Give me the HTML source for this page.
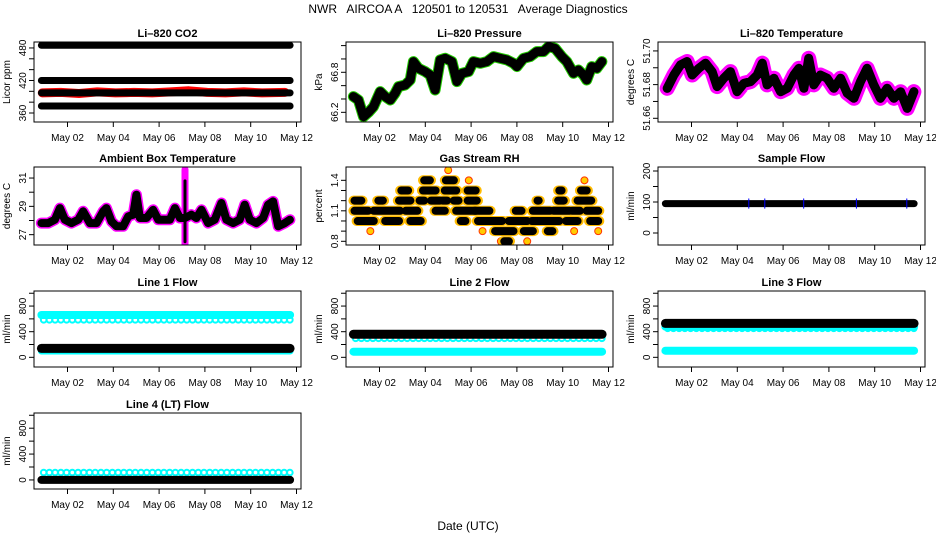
<!DOCTYPE html>
<html><head><meta charset="utf-8">
<style>
html,body{margin:0;padding:0;background:#fff;}
svg{display:block;font-family:"Liberation Sans",Arial,sans-serif;}
text{white-space:pre;}
</style></head>
<body>
<svg id="chart" width="936" height="540" viewBox="0 0 936 540" xmlns="http://www.w3.org/2000/svg">
<text x="468" y="13" text-anchor="middle" font-size="12" xml:space="preserve">NWR   AIRCOA A   120501 to 120531   Average Diagnostics</text>
<text x="468" y="530" text-anchor="middle" font-size="12">Date (UTC)</text>
</svg>
<script>
// ---- data ----
const dayTicks = [2,4,6,8,10,12];
const dayLabels = ["May 02","May 04","May 06","May 08","May 10","May 12"];
const flowTicks = [0,200,400,600,800,1000];
const flowLabels = ["0","400","800"];

const co2Levels = [485,420,397,373];
const co2Red = [397,398,396,399,397,398,397,399,401,398,397,399,397,398];
const co2RedTimes = [0.9,1.7,2.5,3.3,4.1,4.9,5.7,6.5,7.3,8.1,8.9,9.7,10.5,11.5];

const presTimes = [0.86,1.08,1.30,1.52,1.74,2.03,2.25,2.47,2.68,2.83,3.12,3.34,3.48,3.70,3.99,4.21,4.43,4.65,4.87,5.16,5.38,5.60,5.89,6.10,6.40,6.69,6.98,7.27,7.56,7.85,8.0,8.29,8.58,8.87,9.16,9.38,9.67,9.96,10.18,10.47,10.69,10.91,11.05,11.27,11.49,11.71];
const presVals = [66.435,66.385,66.135,66.2,66.285,66.51,66.435,66.385,66.485,66.585,66.61,66.685,66.96,66.86,66.81,66.76,66.535,66.985,67.01,66.96,66.66,66.785,66.81,66.96,66.935,66.96,67.035,67.01,66.985,66.935,66.885,67.01,67.035,67.11,67.11,67.185,67.16,67.035,66.96,66.785,66.835,66.76,66.685,66.885,66.86,66.96];

const tempTimes = [0.94,1.23,1.52,1.81,2.03,2.32,2.61,2.90,3.12,3.41,3.70,3.99,4.29,4.58,4.87,5.09,5.30,5.60,5.89,6.18,6.47,6.69,6.91,7.12,7.34,7.63,7.92,8.22,8.51,8.80,9.09,9.38,9.67,9.96,10.25,10.54,10.84,11.13,11.42,11.71];
const tempVals = [51.6778,51.6857,51.6917,51.6937,51.6857,51.6897,51.6927,51.6877,51.6788,51.6838,51.6877,51.6758,51.6808,51.6818,51.6857,51.6927,51.6798,51.6838,51.6758,51.6778,51.6857,51.6897,51.6778,51.6956,51.6798,51.6857,51.6838,51.6778,51.6838,51.6749,51.6719,51.6818,51.6897,51.6798,51.6719,51.6778,51.6719,51.6758,51.6659,51.6758];

const ambTimes = [0.86,1.16,1.45,1.67,1.88,2.17,2.47,2.68,2.98,3.27,3.56,3.70,3.92,4.14,4.43,4.65,4.87,5.01,5.16,5.45,5.74,5.96,6.25,6.47,6.69,6.91,7.13,7.41,7.63,7.85,8.14,8.43,8.72,8.94,9.23,9.52,9.74,9.96,10.25,10.54,10.76,10.98,11.20,11.49,11.71];
const ambVals = [27.82,27.82,28.06,28.88,28.06,27.82,28.06,28.65,27.82,27.82,28.65,28.88,27.94,27.59,27.59,28.29,28.41,29.82,28.18,28.18,28.76,28.06,28.06,28.06,28.88,28.18,28.18,28.41,28.18,28.76,27.82,28.06,29.24,28.06,27.82,28.06,29.12,28.06,27.82,28.18,29.12,29.35,27.59,27.82,28.06];
const ambSpikeDay = 7.13;
const ambSpikeRange = [26.2,31.6];

const rhStart = [0.86,0.86,1.0,1.9,1.7,2.2,2.8,2.9,3.1,3.3,3.7,3.85,3.9,4.2,4.4,4.7,4.8,4.85,5.2,5.3,5.5,5.8,5.8,6.1,6.25,7.0,7.4,7.6,7.9,8.25,8.6,8.65,8.85,9.3,9.55,9.75,9.8,10.1,10.35,10.6,10.75,11.0,11.15];
const rhEnd   = [1.26,1.55,1.8,2.2,2.95,2.9,3.4,3.3,3.7,3.85,4.0,4.5,4.25,4.7,4.9,5.0,5.4,5.3,5.5,6.25,5.8,6.3,6.25,6.85,7.4,7.9,7.7,8.5,8.25,8.75,9.9,9.5,9.0,9.6,10.35,10.1,10.0,10.7,10.8,11.3,11.1,11.6,11.6];
const rhLevel = [1.2,1.1,1.0,1.2,1.1,1.0,1.2,1.3,1.1,1.0,1.2,1.3,1.4,1.2,1.1,1.2,1.3,1.4,1.2,1.1,1.0,1.2,1.3,1.1,1.0,0.9,0.8,1.0,1.1,0.9,1.0,1.1,1.2,0.9,1.1,1.2,1.3,1.0,1.1,1.2,1.3,1.1,1.0];
const rhYellowDays = [1.6,7.3,8.45,6.5,10.5,11.55,5.9,10.95,5.0,4.1];
const rhYellowVals = [0.9,0.8,0.8,0.9,0.9,0.9,1.4,1.4,1.5,1.4];

const sampleLevel = 95;
const blueTickDays = [4.5,5.2,6.9,9.2,11.4];

const line1Bands = [660,140,98];
const line1Dip = 585;
const line2Bands = [360,88];
const line2Circ = 296;
const line3Bands = [530,478,103];
const line4Circ = 115;
const line4Band = 0;
const seriesStart = 0.86, seriesEnd = 11.72;

// ---- layout ----
const NS = "http://www.w3.org/2000/svg";
const svg = document.getElementById('chart');
const colLeft = [34,346,658];
const colW = 267;
const rowTop = [42,167,291,413];
const rowH = [80,78,76,76];

function mk(tag, attrs, parent){
  const e = document.createElementNS(NS, tag);
  for (const k in attrs) e.setAttribute(k, attrs[k]);
  (parent||svg).appendChild(e);
  return e;
}

function panel(name, col, row, title, ylab, ymin, ymax, ticks, labels){
  const L = colLeft[col], T = rowTop[row], W = colW, H = rowH[row];
  const g = mk('g', {});
  
  
  const sx = d => L + 33.5 + (d - 2) * 22.9;
  const sy = v => T + H - (v - ymin) / (ymax - ymin) * H;
  const t = mk('text', {x: L + W/2, y: T - 5, 'text-anchor':'middle', 'font-size':11, 'font-weight':'bold'}, g);
  t.textContent = title;
  
  
  const yl = mk('text', {x:0, y:0, transform:`translate(${L-24},${T+H/2}) rotate(-90)`, 'text-anchor':'middle', 'font-size':10}, g);
  yl.textContent = ylab;
  
  
  ticks.forEach(v => {
    const y = sy(v);
    mk('line', {x1:L-5, x2:L, y1:y, y2:y, stroke:'#000', 'stroke-width':1}, g);
  });
  mk('line', {x1:L, x2:L, y1:sy(ticks[0]), y2:sy(ticks[ticks.length-1]), stroke:'#000'}, g);
  labels.forEach(s => {
    const y = sy(parseFloat(s));
    const tx = mk('text', {x:0, y:0, transform:`translate(${L-8},${y}) rotate(-90)`, 'text-anchor':'middle', 'font-size':10}, g);
    tx.textContent = s;
    
    
  });
  dayTicks.forEach((d, i) => {
    const x = sx(d);
    mk('line', {x1:x, x2:x, y1:T+H, y2:T+H+5, stroke:'#000'}, g);
    const tx = mk('text', {x:x, y:T+H+19, 'text-anchor':'middle', 'font-size':10}, g);
    tx.textContent = dayLabels[i];
    
    
  });
  const plot = mk('g', {}, g);
  const clip = mk('clipPath', {id: 'clip-' + name}, g);
  mk('rect', {x:L, y:T, width:W, height:H}, clip);
  plot.setAttribute('clip-path', `url(#clip-${name})`);
  const box = mk('rect', {x:L, y:T, width:W, height:H, fill:'none', stroke:'#000', 'stroke-width':1}, g);
  
  
  return {sx, sy, g: plot};
}

function path(p, times, vals, color, w, name){
  let d = '';
  times.forEach((t, i) => { d += (i ? 'L' : 'M') + p.sx(t).toFixed(1) + ' ' + p.sy(vals[i]).toFixed(1); });
  const e = mk('path', {d, fill:'none', stroke:color, 'stroke-width':w, 'stroke-linejoin':'round', 'stroke-linecap':'round'}, p.g);
  
  
  return e;
}
function band(p, v, color, w, name){
  return path(p, [seriesStart, seriesEnd], [v, v], color, w, name);
}
function circles(p, v, color, name){
  for (let t = seriesStart + 0.1; t < seriesEnd; t += 0.25) {
    const c = mk('circle', {cx:p.sx(t), cy:p.sy(v), r:2.8, fill:'none', stroke:color, 'stroke-width':2}, p.g);
    
    
  }
}

// CO2
let p = panel('co2', 0, 0, 'Li\u2013820 CO2', 'Licor ppm', 343.4, 491, [360,380,400,420,440,460,480], ["360","420","480"]);
path(p, co2RedTimes, co2Red, '#ff0000', 9, 'co2-red-series');
co2Levels.forEach((v, i) => band(p, v, '#000', 7, 'co2-level-' + i));

// Pressure
p = panel('pressure', 1, 0, 'Li\u2013820 Pressure', 'kPa', 66.055, 67.254, [66.2,66.4,66.6,66.8,67.0,67.2], ["66.2","66.8"]);
path(p, presTimes, presVals, '#22cc00', 11, 'pressure-halo');
path(p, presTimes, presVals, '#000', 9, 'pressure-series');

// Temperature
p = panel('temperature', 2, 0, 'Li\u2013820 Temperature', 'degrees C', 51.6578, 51.7053, [51.66,51.67,51.68,51.69,51.70], ["51.66","51.68","51.70"]);
path(p, tempTimes, tempVals, '#ff00ff', 15, 'temperature-halo');
path(p, tempTimes, tempVals, '#000', 9, 'temperature-series');

// Ambient
p = panel('ambient', 0, 1, 'Ambient Box Temperature', 'degrees C', 26.27, 31.78, [27,28,29,30,31], ["27","29","31"]);
path(p, [ambSpikeDay, ambSpikeDay], ambSpikeRange, '#ff00ff', 7, 'ambient-spike');
path(p, ambTimes, ambVals, '#ff00ff', 11, 'ambient-halo');
path(p, ambTimes, ambVals, '#000', 8, 'ambient-series');
path(p, [ambSpikeDay, ambSpikeDay], [26.5, 30.8], '#000', 3, 'ambient-spike-points');

// Gas RH
p = panel('gas-rh', 1, 1, 'Gas Stream RH', 'percent', 0.7636, 1.531, [0.8,0.9,1.0,1.1,1.2,1.3,1.4], ["0.8","1.1","1.4"]);
rhYellowDays.forEach((d, i) => {
  const c = mk('circle', {cx:p.sx(d), cy:p.sy(rhYellowVals[i]), r:3.5, fill:'#ffcc00', stroke:'#ff3300', 'stroke-width':1}, p.g);
  
  
});
rhStart.forEach((s, i) => path(p, [s, rhEnd[i]], [rhLevel[i], rhLevel[i]], '#ffbb00', 10, 'rh-halo'));
rhStart.forEach((s, i) => path(p, [s + 0.05, rhEnd[i] - 0.05], [rhLevel[i], rhLevel[i]], '#000', 8, 'rh-segment'));

// Sample flow
p = panel('sample-flow', 2, 1, 'Sample Flow', 'ml/min', -38.7, 212.9, [0,50,100,150,200], ["0","100","200"]);
band(p, sampleLevel, '#000', 7, 'sample-flow-series');
blueTickDays.forEach(d => path(p, [d, d], [sampleLevel - 15, sampleLevel + 15], '#0000ff', 1, 'sample-flow-blue'));

// Line 1
p = panel('line1-flow', 0, 2, 'Line 1 Flow', 'ml/min', -151, 1035, flowTicks, flowLabels);
band(p, line1Bands[2], '#00ffff', 7, 'line1-low-cyan');
band(p, line1Bands[1], '#000', 9, 'line1-black');
band(p, line1Bands[0], '#00ffff', 8, 'line1-high-cyan');
circles(p, line1Dip, '#00ffff', 'line1-dip');

// Line 2
p = panel('line2-flow', 1, 2, 'Line 2 Flow', 'ml/min', -151, 1035, flowTicks, flowLabels);
band(p, line2Bands[1], '#00ffff', 8, 'line2-low-cyan');
circles(p, line2Circ, '#00ffff', 'line2-cyan-points');
band(p, line2Bands[0], '#000', 9, 'line2-black');

// Line 3
p = panel('line3-flow', 2, 2, 'Line 3 Flow', 'ml/min', -151, 1035, flowTicks, flowLabels);
band(p, line3Bands[2], '#00ffff', 8, 'line3-low-cyan');
band(p, line3Bands[1], '#00ffff', 8, 'line3-mid-cyan');
circles(p, line3Bands[1] - 25, '#00ffff', 'line3-cyan-points');
band(p, line3Bands[0], '#000', 9, 'line3-black');

// Line 4
p = panel('line4-flow', 0, 3, 'Line 4 (LT) Flow', 'ml/min', -140, 1035, flowTicks, flowLabels);
circles(p, line4Circ, '#00ffff', 'line4-cyan-points');
band(p, line4Band, '#000', 8, 'line4-black');
</script>
</body></html>
